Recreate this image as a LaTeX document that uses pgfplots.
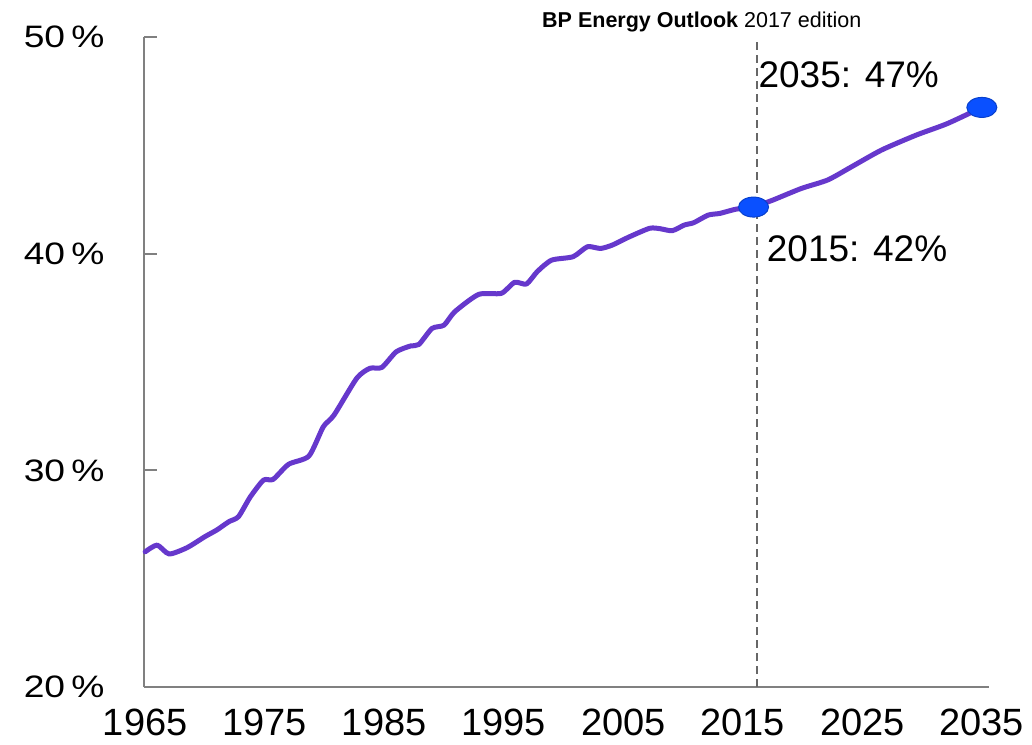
\documentclass[border=0pt]{standalone}
\usepackage{fontspec}
\setmainfont{Liberation Sans}
\usepackage{graphicx}
\usepackage{pgfplots}
\pgfplotsset{compat=1.18}
\definecolor{linepurple}{RGB}{102,56,204}
\definecolor{markblue}{RGB}{10,80,255}
\definecolor{axisgray}{RGB}{128,128,128}
\begin{document}
\begin{tikzpicture}
\useasboundingbox (-144pt,-57pt) rectangle (888pt,687pt);
\begin{axis}[
  at={(0pt,0pt)}, anchor=south west,
  scale only axis, width=845pt, height=650pt,
  xmin=1964.9, xmax=2035.6, ymin=20, ymax=50,
  axis x line=bottom, axis y line=left,
  axis line style={-, axisgray, line width=2pt},
  xtick={1965,1975,...,2035},
  xticklabels={1965,1975,1985,1995,2005,2015,2025,2035},
  ytick={20,30,40,50},
  yticklabels={\scalebox{1.2}[1]{20\,\%},\scalebox{1.2}[1]{30\,\%},\scalebox{1.2}[1]{40\,\%},\scalebox{1.2}[1]{50\,\%}},
  tick align=inside, major tick length=13pt,
  x tick style={draw=none},
  y tick style={axisgray, line width=2pt},
  xticklabel style={font=\fontsize{38}{38}\selectfont, anchor=north, yshift=-18pt},
  yticklabel style={font=\fontsize{31}{31}\selectfont, anchor=east, xshift=-36pt},
  clip=false,
]
% projection divider
\draw[axisgray!80!black, line width=2pt, dash pattern=on 8pt off 5pt]
  (axis cs:2016.2,20) -- (axis cs:2016.2,49.77);

% history
\addplot[linepurple, line width=5pt, smooth, tension=0.4, line join=round, line cap=round] coordinates {
  (1965,26.24) (1966,26.55) (1967,26.14) (1968.5,26.43) (1970,26.94)
  (1971,27.25) (1972,27.63) (1972.8,27.86) (1973.8,28.78) (1974.9,29.55)
  (1975.7,29.58) (1977,30.28) (1978.7,30.66) (1979.9,32.01) (1980.8,32.55)
  (1982.7,34.25) (1983.8,34.71) (1984.8,34.75) (1986,35.47) (1987.2,35.74)
  (1987.9,35.81) (1989,36.55) (1990,36.7) (1990.9,37.32) (1992.9,38.12)
  (1994.8,38.17) (1995.9,38.68) (1996.9,38.6) (1997.8,39.17) (1999,39.7)
  (2000.8,39.86) (2002,40.32) (2003.1,40.24) (2004.1,40.4) (2005.4,40.75)
  (2007.2,41.17) (2008.1,41.15) (2009.1,41.06) (2010.1,41.32) (2010.9,41.43)
  (2012.1,41.78) (2013.1,41.86) (2014.4,42.05) (2015.9,42.15)
};
% outlook
\addplot[linepurple, line width=5pt, smooth, tension=0.4, line join=round, line cap=round] coordinates {
  (2015.9,42.15) (2017.5,42.47) (2019.9,43.01) (2022.1,43.4) (2024.1,44.01)
  (2026.6,44.78) (2029.5,45.47) (2032.1,46.0) (2035,46.75)
};
\addplot[only marks, mark=*, mark size=10pt,
  mark options={xscale=1.5, fill=markblue, draw=markblue!80!black, line width=1pt}]
  coordinates {(2015.9,42.15) (2035,46.75)};

\node[anchor=base west, inner sep=0pt, font=\fontsize{37}{37}\selectfont]
  at (axis cs:2016.3,47.65) {2035: 47\%};
\node[anchor=base west, inner sep=0pt, font=\fontsize{37}{37}\selectfont]
  at (axis cs:2017.0,39.62) {2015: 42\%};
\node[anchor=base west, inner sep=0pt, font=\fontsize{21.5}{21.5}\selectfont]
  at (axis cs:1998.2,50.46) {\textbf{BP Energy Outlook} 2017 edition};
\end{axis}
\end{tikzpicture}
\end{document}
